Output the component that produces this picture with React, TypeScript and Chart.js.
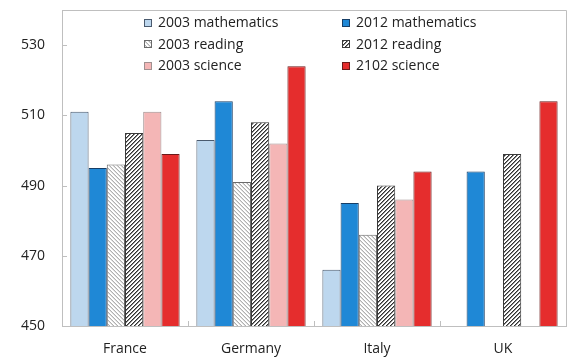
import React, { useEffect, useRef } from 'react';
import { Chart, registerables } from 'chart.js';

Chart.register(...registerables);

const categories = ['France', 'Germany', 'Italy', 'UK'];
const math2003 = [511, 503, 466, null];
const math2012 = [495, 514, 485, 494];
const reading2003 = [496, 491, 476, null];
const reading2012 = [505, 508, 490, 499];
const science2003 = [511, 502, 486, null];
const science2012 = [499, 524, 494, 514];
const seriesLabels = [
  '2003 mathematics',
  '2012 mathematics',
  '2003 reading',
  '2012 reading',
  '2003 science',
  '2102 science',
];
const yTickValues = [450, 470, 490, 510, 530];
const yMin = 450;
const yMax = 540;

const FONT = '"Open Sans", "Noto Sans", sans-serif';
const AXIS_COLOR = '#bfbfbf';
const TEXT_COLOR = '#222222';

function makeHatch(main: string, soft: string, dir: '/' | '\\'): CanvasPattern | string {
  const c = document.createElement('canvas');
  c.width = 4;
  c.height = 4;
  const ctx = c.getContext('2d');
  if (!ctx) return '#ffffff';
  ctx.fillStyle = '#ffffff';
  ctx.fillRect(0, 0, 4, 4);
  for (let i = 0; i < 4; i++) {
    const y = dir === '/' ? 3 - i : i;
    ctx.fillStyle = main;
    ctx.fillRect(i, y, 1, 1);
    ctx.fillStyle = soft;
    const y2 = dir === '/' ? (4 - i) % 4 : (i + 1) % 4;
    ctx.fillRect(i, y2, 1, 1);
  }
  return ctx.createPattern(c, 'repeat') || '#ffffff';
}

export default function App() {
  const ref = useRef<HTMLCanvasElement | null>(null);

  useEffect(() => {
    const canvas = ref.current;
    if (!canvas) return;

    const bgs = [
      '#bdd7ee',
      '#1f88d6',
      makeHatch('#b0b0b0', '#dcdcdc', '\\'),
      makeHatch('#303030', '#8a8a8a', '/'),
      '#f4b6b6',
      '#e52d2d',
    ];
    const borders = ['#4a5a6e', '#173e66', '#6a6a6a', '#3a3a3a', '#a09090', '#6b1a1a'];
    const values = [math2003, math2012, reading2003, reading2012, science2003, science2012];

    const legendPlugin = {
      id: 'customLegend',
      afterDraw(chart: any) {
        const { ctx, chartArea } = chart;
        ctx.save();
        // frame top and right
        ctx.strokeStyle = AXIS_COLOR;
        ctx.lineWidth = 1;
        ctx.beginPath();
        ctx.moveTo(chartArea.left, chartArea.top + 0.5);
        ctx.lineTo(chartArea.right + 0.5, chartArea.top + 0.5);
        ctx.lineTo(chartArea.right + 0.5, chartArea.bottom);
        ctx.stroke();

        // inward y ticks
        const ys = chart.scales.y;
        ctx.beginPath();
        yTickValues.forEach((v) => {
          if (v === yMin) return;
          const py = Math.round(ys.getPixelForValue(v)) + 0.5;
          ctx.moveTo(chartArea.left, py);
          ctx.lineTo(chartArea.left + 5, py);
        });
        // inward x ticks at category boundaries
        const xs = chart.scales.x;
        for (let i = 1; i < categories.length; i++) {
          const px = Math.round((xs.getPixelForTick(i - 1) + xs.getPixelForTick(i)) / 2) + 0.5;
          ctx.moveTo(px, chartArea.bottom);
          ctx.lineTo(px, chartArea.bottom - 5);
        }
        ctx.stroke();

        // legend
        ctx.font = `14px ${FONT}`;
        ctx.textBaseline = 'middle';
        ctx.textAlign = 'left';
        seriesLabels.forEach((lab, i) => {
          const col = i % 2;
          const row = Math.floor(i / 2);
          const x = chartArea.left + 82 + col * 198;
          const yc = chartArea.top + 12.5 + row * 21.5;
          const sy = Math.round(yc - 4);
          ctx.fillStyle = bgs[i];
          ctx.fillRect(x, sy, 8, 8);
          ctx.strokeStyle = borders[i];
          ctx.strokeRect(x + 0.5, sy + 0.5, 7, 7);
          ctx.fillStyle = TEXT_COLOR;
          ctx.fillText(lab, x + 14, yc + 1);
        });
        ctx.restore();
      },
    };

    const chart = new Chart(canvas, {
      type: 'bar',
      data: {
        labels: categories,
        datasets: values.map((vals, i) => ({
          label: seriesLabels[i],
          data: vals,
          backgroundColor: bgs[i],
          borderColor: borders[i],
          borderWidth: 1,
          categoryPercentage: 0.867,
          barPercentage: 1.0,
        })),
      },
      options: {
        responsive: false,
        animation: false,
        devicePixelRatio: 1,
        layout: { padding: { top: 10, right: 2, left: 0, bottom: 0 } },
        plugins: {
          legend: { display: false },
          tooltip: { enabled: false },
        },
        scales: {
          x: {
            offset: true,
            grid: { display: false, drawTicks: false },
            border: { display: true, color: AXIS_COLOR, width: 1 },
            ticks: { padding: 15, color: TEXT_COLOR, font: { family: FONT, size: 14 } },
            afterFit: (s: any) => {
              s.height = 34;
              s.paddingLeft = 0;
              s.paddingRight = 0;
            },
          },
          y: {
            min: yMin,
            max: yMax,
            afterBuildTicks: (s: any) => {
              s.ticks = yTickValues.map((v) => ({ value: v }));
            },
            grid: { display: false, drawTicks: false },
            border: { display: true, color: AXIS_COLOR, width: 1 },
            ticks: { padding: 17, color: TEXT_COLOR, font: { family: FONT, size: 14 } },
            afterFit: (s: any) => {
              s.width = 62;
              s.paddingTop = 0;
              s.paddingBottom = 0;
            },
          },
        },
      },
      plugins: [legendPlugin],
    });

    return () => chart.destroy();
  }, []);

  return (
    <div style={{ position: 'absolute', left: 0, top: 0, width: 568, height: 360 }}>
      <canvas ref={ref} width={568} height={360} style={{ display: 'block' }} />
    </div>
  );
}
